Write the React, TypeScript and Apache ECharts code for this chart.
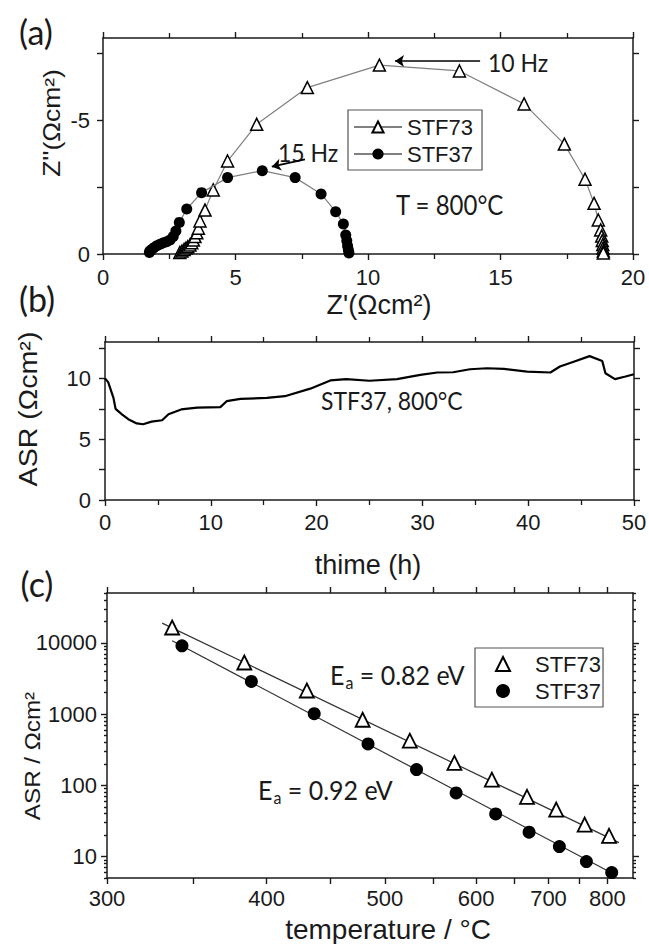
import React, { useEffect, useRef } from 'react';
import * as echarts from 'echarts';

// ---------- Panel (a): Nyquist plot, T = 800 °C ----------
const stf73Re = [2.9, 2.98, 3.06, 3.13, 3.2, 3.28, 3.35, 3.41, 3.47, 3.54, 3.6, 3.66, 3.85, 4.16, 4.7, 5.8, 7.71, 10.43, 13.45, 15.89, 17.41, 18.19, 18.53, 18.69, 18.78, 18.82, 18.84, 18.86, 18.87, 18.88, 18.88];
const stf73Im = [0.06, 0.11, 0.17, 0.22, 0.27, 0.34, 0.42, 0.52, 0.65, 0.79, 0.96, 1.23, 1.64, 2.39, 3.47, 4.84, 6.21, 7.05, 6.83, 5.6, 4.1, 2.79, 1.89, 1.27, 0.9, 0.67, 0.5, 0.35, 0.22, 0.11, 0.04];
const stf37Re = [1.75, 1.77, 1.84, 1.92, 2.03, 2.15, 2.28, 2.4, 2.53, 2.65, 2.75, 2.88, 3.16, 3.72, 4.7, 6.01, 7.25, 8.23, 8.78, 9.07, 9.16, 9.2, 9.23, 9.26, 9.28];
const stf37Im = [0.06, 0.11, 0.17, 0.23, 0.31, 0.36, 0.42, 0.46, 0.52, 0.65, 0.86, 1.18, 1.68, 2.29, 2.85, 3.11, 2.85, 2.24, 1.58, 1.12, 0.71, 0.49, 0.3, 0.15, 0.04];
const nyqYTicks = [0, 2.5, 5, 7.5];
const nyqYLabels = [0, 5];
// arrows: [fromRe, fromIm, toRe, toIm]
const arrow10Hz = [14.23, 7.2, 11.02, 7.2];
const arrow15Hz = [7.62, 3.53, 6.37, 3.26];

// ---------- Panel (b): ASR vs time ----------
const timeH = [0, 0.3, 0.8, 1.0, 1.6, 2.2, 3.0, 3.6, 4.4, 5.4, 6.0, 7.2, 8.7, 10.9, 11.5, 12.8, 15.3, 17.0, 19.4, 21.3, 22.8, 25.0, 27.6, 29.8, 31.4, 32.9, 34.5, 36.1, 37.7, 39.9, 42.1, 43.0, 44.3, 45.8, 47.0, 47.3, 48.2, 49.2, 50];
const asrTime = [10.0, 9.7, 8.4, 7.5, 7.05, 6.65, 6.3, 6.23, 6.45, 6.56, 7.05, 7.45, 7.6, 7.64, 8.13, 8.32, 8.4, 8.54, 9.16, 9.84, 9.95, 9.81, 9.95, 10.3, 10.49, 10.51, 10.76, 10.84, 10.79, 10.57, 10.49, 10.98, 11.38, 11.84, 11.44, 10.43, 9.95, 10.16, 10.35];
const asrTimeTicks = [0, 2.5, 5, 7.5, 10, 12.5];
const asrTimeLabels = [0, 5, 10];

// ---------- Panel (c): Arrhenius plot ----------
const temp73 = [337, 384, 431, 479, 525, 574, 620, 668, 712, 759, 803];
const asr73 = [16400, 5290, 2140, 832, 423, 206, 120, 68.8, 45.6, 28.1, 19.5];
const temp37 = [343, 389, 437, 484, 532, 576, 625, 671, 717, 762, 808];
const asr37 = [9080, 2865, 1010, 380, 166, 78.2, 39.7, 22, 13.8, 8.5, 5.97];
const fit73T = [331, 822];
const fit73V = [18900, 15.7];
const fit37T = [337, 810];
const fit37V = [10700, 5.8];
const tempLabels = [300, 400, 500, 600, 700, 800];
const tempTicks = [300, 350, 400, 450, 500, 550, 600, 650, 700, 750, 800];
const tempRange = [300, 850];
const logMajor = [10, 100, 1000, 10000];
const logMinor = [5, 6, 7, 8, 9, 20, 30, 40, 50, 60, 70, 80, 90, 200, 300, 400, 500, 600, 700, 800, 900, 2000, 3000, 4000, 5000, 6000, 7000, 8000, 9000, 20000, 30000, 40000, 50000];

const invT = (c: number) => 1000 / (c + 273.15);

const AX = '#1a1a1a';
const ARIAL = 'Liberation Sans';
const CAL = 'Lato';

function mkAxis(o: any) {
  const ax: any = {
    type: o.type || 'value',
    gridIndex: o.grid,
    position: o.position,
    min: o.min,
    max: o.max,
    inverse: !!o.inverse,
    splitLine: { show: false },
    minorSplitLine: { show: false },
    axisLine: { show: o.line !== false, onZero: false, lineStyle: { color: AX, width: 1.5 } },
    axisTick: { show: true, inside: false, length: o.tickLen || 6, lineStyle: { color: AX, width: 1.4 } },
    minorTick: { show: !!o.minor, splitNumber: 2, length: 5, lineStyle: { color: AX, width: 1.3 } },
    axisLabel: {
      show: !!o.showLabels,
      fontSize: 22,
      fontFamily: ARIAL,
      color: AX,
      margin: o.margin || 12,
    },
    silent: true,
  };
  if (o.interval != null) ax.interval = o.interval;
  if (o.logBase) ax.logBase = o.logBase;
  if (o.ticks) ax.axisTick.customValues = o.ticks;
  if (o.labels) ax.axisLabel.customValues = o.labels;
  if (o.formatter) ax.axisLabel.formatter = o.formatter;
  return ax;
}

function txt(x: number, y: number, text: string, size: number, family: string, extra: any = {}) {
  return {
    type: 'text',
    x,
    y,
    rotation: extra.rotation || 0,
    scaleX: extra.scaleX || 1,
    scaleY: extra.scaleY || 1,
    silent: true,
    style: {
      text,
      fontSize: size,
      fontFamily: family,
      fill: AX,
      align: extra.align || 'center',
      verticalAlign: 'middle',
    },
  };
}

function eaText(x: number, y: number, value: string) {
  return {
    type: 'text',
    x,
    y,
    silent: true,
    scaleY: 1.1,
    style: {
      text: `{n|E}{s|a}{n| = ${value} eV}`,
      align: 'left',
      verticalAlign: 'middle',
      fill: AX,
      rich: {
        n: { fontSize: 25, fontFamily: CAL, fill: AX },
        s: { fontSize: 16, fontFamily: CAL, fill: AX, padding: [13, 0, 0, 1] },
      },
    },
  };
}

export default function App() {
  const ref = useRef<HTMLDivElement>(null);

  useEffect(() => {
    document.body.style.margin = '0';
    if (!ref.current) return;
    const chart = echarts.init(ref.current, undefined, { renderer: 'svg' });

    const arrowLine = (a: number[]) => [
      { coord: [a[0], a[1]], symbol: 'none' },
      { coord: [a[2], a[3]], symbol: 'arrow' },
    ];

    const option: any = {
      animation: false,
      backgroundColor: '#fff',
      grid: [
        { left: 103, top: 38, width: 530, height: 216, outerBoundsMode: 'none' },
        { left: 105, top: 342, width: 529, height: 158, outerBoundsMode: 'none' },
        { left: 107, top: 593, width: 526, height: 285, outerBoundsMode: 'none' },
      ],
      xAxis: [
        mkAxis({ grid: 0, position: 'bottom', min: 0, max: 20, interval: 5, minor: true, showLabels: true, margin: 12 }),
        mkAxis({ grid: 0, position: 'top', min: 0, max: 20, interval: 5, minor: true }),
        mkAxis({ grid: 1, position: 'bottom', min: 0, max: 50, interval: 10, minor: true, showLabels: true, margin: 11 }),
        mkAxis({ grid: 1, position: 'top', min: 0, max: 50, interval: 10, minor: true }),
        mkAxis({
          grid: 2, position: 'bottom', min: invT(tempRange[1]), max: invT(tempRange[0]), inverse: true,
          ticks: tempTicks.map(invT), labels: tempLabels.map(invT), showLabels: true, margin: 9,
          formatter: (v: number) => String(Math.round(1000 / v - 273.15)),
        }),
        mkAxis({
          grid: 2, position: 'top', min: invT(tempRange[1]), max: invT(tempRange[0]), inverse: true,
          ticks: tempTicks.map(invT),
        }),
      ],
      yAxis: [
        mkAxis({
          grid: 0, position: 'left', min: 0, max: 8.06, ticks: nyqYTicks, labels: nyqYLabels, showLabels: true, margin: 13,
          formatter: (v: number) => (v === 0 ? '0' : '-' + v),
        }),
        mkAxis({ grid: 0, position: 'right', min: 0, max: 8.06, ticks: nyqYTicks }),
        mkAxis({ grid: 1, position: 'left', min: 0, max: 13, ticks: asrTimeTicks, labels: asrTimeLabels, showLabels: true, margin: 14 }),
        mkAxis({ grid: 1, position: 'right', min: 0, max: 13, ticks: asrTimeTicks }),
        mkAxis({
          grid: 2, type: 'log', logBase: 10, position: 'left', min: 5, max: 50000, ticks: logMajor, labels: logMajor,
          showLabels: true, margin: 10, formatter: (v: number) => String(Math.round(v)),
        }),
        mkAxis({ grid: 2, type: 'log', logBase: 10, position: 'left', min: 5, max: 50000, ticks: logMinor, tickLen: 3, line: false }),
        mkAxis({ grid: 2, type: 'log', logBase: 10, position: 'right', min: 5, max: 50000, ticks: logMajor }),
        mkAxis({ grid: 2, type: 'log', logBase: 10, position: 'right', min: 5, max: 50000, ticks: logMinor, tickLen: 3, line: false }),
      ],
      legend: [
        {
          data: ['STF73', 'STF37'],
          orient: 'vertical',
          left: 348,
          top: 110,
          padding: [6, 9, 5, 5],
          itemWidth: 48,
          itemHeight: 14,
          itemGap: 5,
          borderColor: '#555',
          borderWidth: 1.2,
          selectedMode: false,
          textStyle: { fontSize: 22, fontFamily: ARIAL, color: AX, lineHeight: 22 },
        },
        {
          data: ['STF73 ', 'STF37 '],
          orient: 'vertical',
          left: 475,
          top: 648,
          padding: [5, 2, 5, 20],
          itemWidth: 14,
          itemHeight: 14,
          itemGap: 5,
          borderColor: '#555',
          borderWidth: 1.2,
          selectedMode: false,
          formatter: (n: string) => n.trim(),
          textStyle: { fontSize: 22, fontFamily: ARIAL, color: AX, lineHeight: 22, padding: [0, 0, 0, 20] },
        },
      ],
      series: [
        {
          type: 'line',
          name: 'STF73',
          xAxisIndex: 0,
          yAxisIndex: 0,
          data: stf73Re.map((x, i) => [x, stf73Im[i]]),
          symbol: 'triangle',
          symbolSize: 12,
          lineStyle: { color: '#808080', width: 1.2 },
          itemStyle: { color: '#fff', borderColor: '#000', borderWidth: 1.5 },
          z: 3,
          markLine: {
            silent: true,
            symbolSize: 9,
            label: { show: false },
            lineStyle: { color: '#000', width: 1.6, type: 'solid' },
            data: [arrowLine(arrow10Hz), arrowLine(arrow15Hz)],
          },
        },
        {
          type: 'line',
          name: 'STF37',
          xAxisIndex: 0,
          yAxisIndex: 0,
          data: stf37Re.map((x, i) => [x, stf37Im[i]]),
          symbol: 'circle',
          symbolSize: 11,
          lineStyle: { color: '#808080', width: 1.2 },
          itemStyle: { color: '#000' },
          z: 4,
        },
        {
          type: 'line',
          name: 'ASR(t)',
          xAxisIndex: 2,
          yAxisIndex: 2,
          data: timeH.map((t, i) => [t, asrTime[i]]),
          symbol: 'none',
          lineStyle: { color: '#000', width: 2.2 },
        },
        {
          type: 'line',
          name: 'fit73',
          xAxisIndex: 4,
          yAxisIndex: 4,
          data: fit73T.map((t, i) => [invT(t), fit73V[i]]),
          symbol: 'none',
          lineStyle: { color: '#333', width: 1.2 },
          z: 2,
        },
        {
          type: 'line',
          name: 'fit37',
          xAxisIndex: 4,
          yAxisIndex: 4,
          data: fit37T.map((t, i) => [invT(t), fit37V[i]]),
          symbol: 'none',
          lineStyle: { color: '#333', width: 1.2 },
          z: 2,
        },
        {
          type: 'scatter',
          name: 'STF73 ',
          xAxisIndex: 4,
          yAxisIndex: 4,
          data: temp73.map((t, i) => [invT(t), asr73[i]]),
          symbol: 'triangle',
          symbolSize: 14,
          itemStyle: { color: '#fff', borderColor: '#000', borderWidth: 1.8, opacity: 1 },
          z: 3,
        },
        {
          type: 'scatter',
          name: 'STF37 ',
          xAxisIndex: 4,
          yAxisIndex: 4,
          data: temp37.map((t, i) => [invT(t), asr37[i]]),
          symbol: 'circle',
          symbolSize: 13,
          itemStyle: { color: '#000', opacity: 1 },
          z: 3,
        },
      ],
      graphic: [
        txt(36, 31, '(a)', 34, CAL),
        txt(37, 298, '(b)', 34, CAL),
        txt(37, 583, '(c)', 34, CAL),
        txt(52, 123, "Z''(Ωcm²)", 23, ARIAL, { rotation: Math.PI / 2, scaleX: 1.15 }),
        txt(379, 305, "Z'(Ωcm²)", 27, ARIAL),
        txt(488, 62, '10 Hz', 23, CAL, { align: 'left', scaleY: 1.1 }),
        txt(278, 152, '15 Hz', 23, CAL, { align: 'left', scaleY: 1.1 }),
        txt(396, 205, 'T = 800°C', 24, CAL, { align: 'left', scaleY: 1.1 }),
        txt(28, 409, 'ASR (Ωcm²)', 26, ARIAL, { rotation: Math.PI / 2, scaleX: 1.1 }),
        txt(368, 565, 'thime (h)', 27, ARIAL),
        txt(321, 400, 'STF37, 800°C', 23, CAL, { align: 'left', scaleY: 1.1 }),
        txt(32, 756, 'ASR / Ωcm²', 22, ARIAL, { rotation: Math.PI / 2, scaleX: 1.1 }),
        txt(388, 929, 'temperature / °C', 28, ARIAL),
        eaText(330, 675, '0.82'),
        eaText(258, 790, '0.92'),
      ],
    };

    chart.setOption(option);
    return () => chart.dispose();
  }, []);

  return <div ref={ref} style={{ width: 649, height: 944 }} />;
}
